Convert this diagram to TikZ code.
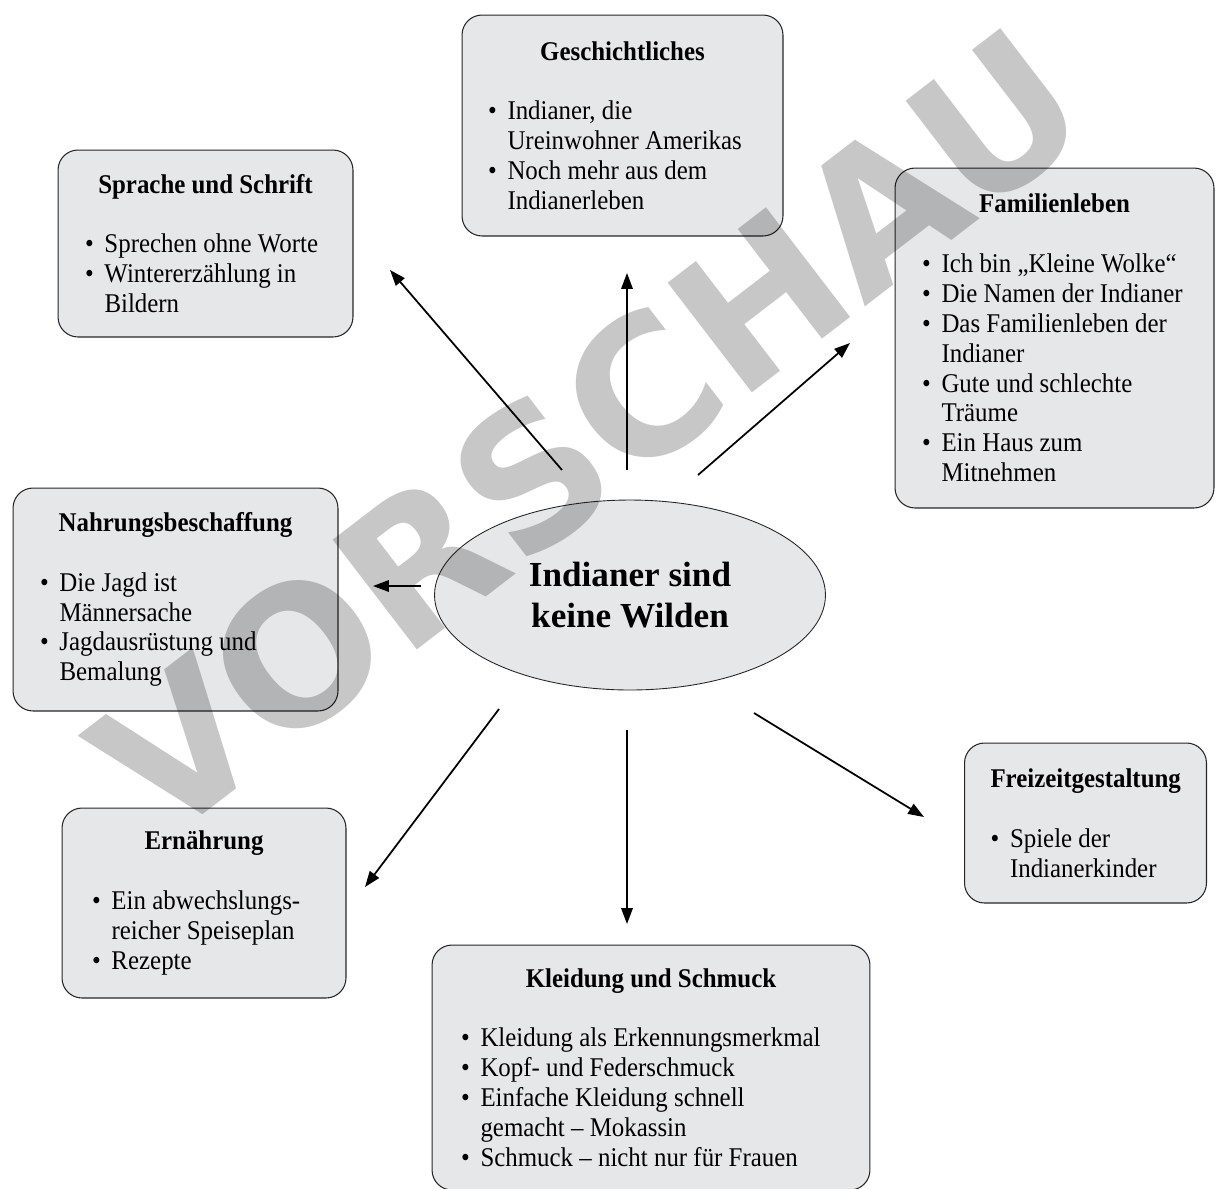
\documentclass[tikz,border=0pt]{standalone}
\usepackage{fontspec}
\setmainfont[FakeStretch=0.92]{Liberation Serif}
\newfontfamily\hubfont{Liberation Serif}
\newfontfamily\stampfont{DejaVu Sans}
\usetikzlibrary{shapes.geometric, arrows.meta, positioning}

\definecolor{boxgray}{HTML}{E6E7E9}
\newcommand{\bul}[1]{\par\noindent\hangindent=0.72em\hangafter=1\makebox[0.72em][l]{\textbullet}#1\par}
\newcommand{\boxhead}[1]{{\centering\textbf{#1}\par}\vspace{17pt}}

\begin{document}
\begin{tikzpicture}[
    x=0.02cm, y=-0.02cm,
    topic/.style={draw=black!85, fill=boxgray, line width=0.6pt,
        rounded corners=0.4cm, inner sep=0pt, align=flush left,
        font=\fontsize{15.4}{17}\selectfont},
    hub/.style={ellipse, draw=black!85, fill=boxgray, line width=0.5pt,
        inner sep=0pt, align=center,
        font=\hubfont\bfseries\fontsize{20}{23}\selectfont},
    link/.style={-{Triangle[length=9pt, width=6.5pt]}, line width=1pt},
    stamp/.style={font=\stampfont\bfseries\fontsize{108}{108}\selectfont,
        text=black, text opacity=0.22, rotate=37.5, inner sep=0pt}
]
\useasboundingbox (0,0) rectangle (1216,1188);

% central topic
\node[hub, minimum width=7.82cm, minimum height=3.8cm] (hub) at (630,595)
    {Indianer sind\\keine Wilden};

% topic boxes
\node[topic, minimum width=5.9cm, minimum height=3.74cm, text width=4.82cm]
    (sprache) at (205.5,243.5) {\boxhead{Sprache und Schrift}%
    \bul{Sprechen ohne Worte}
    \bul{Wintererzählung in\newline Bildern}};

\node[topic, minimum width=6.42cm, minimum height=4.42cm, text width=5.38cm]
    (gesch) at (622.5,125.5) {\boxhead{Geschichtliches}%
    \bul{Indianer, die\newline Ureinwohner Amerikas}
    \bul{Noch mehr aus dem\newline Indianerleben}};

\node[topic, minimum width=6.38cm, minimum height=6.8cm, text width=5.3cm]
    (familie) at (1054.5,338) {\boxhead{Familienleben}%
    \bul{Ich bin „Kleine Wolke“}
    \bul{Die Namen der Indianer}
    \bul{Das Familienleben der\newline Indianer}
    \bul{Gute und schlechte\newline Träume}
    \bul{Ein Haus zum\newline Mitnehmen}};

\node[topic, minimum width=6.5cm, minimum height=4.46cm, text width=5.42cm]
    (nahrung) at (175.5,599.5) {\boxhead{Nahrungsbeschaffung}%
    \bul{Die Jagd ist\newline Männersache}
    \bul{Jagdausrüstung und\newline Bemalung}};

\node[topic, minimum width=5.68cm, minimum height=3.8cm, text width=4.48cm]
    (ernaehrung) at (204,903) {\boxhead{Ernährung}%
    \bul{Ein abwechslungs-\newline reicher Speiseplan}
    \bul{Rezepte}};

\node[topic, minimum width=8.76cm, minimum height=4.9cm, text width=7.6cm]
    (kleidung) at (651,1067.5) {\boxhead{Kleidung und Schmuck}%
    \bul{Kleidung als Erkennungsmerkmal}
    \bul{Kopf- und Federschmuck}
    \bul{Einfache Kleidung schnell\newline gemacht – Mokassin}
    \bul{Schmuck – nicht nur für Frauen}};

\node[topic, minimum width=4.84cm, minimum height=3.2cm, text width=3.8cm]
    (freizeit) at (1085.5,823) {\boxhead{Freizeitgestaltung}%
    \bul{Spiele der\newline Indianerkinder}};

% arrow ends
\coordinate (hub-nw) at (562,470);
\coordinate (hub-n)  at (627,470);
\coordinate (hub-ne) at (698,475);
\coordinate (hub-w)  at (421,586);
\coordinate (hub-sw) at (499,709);
\coordinate (hub-s)  at (627,730);
\coordinate (hub-se) at (754,713);
\coordinate (sprache-in)    at (390,270);
\coordinate (gesch-in)      at (627,273);
\coordinate (familie-in)    at (850,343);
\coordinate (nahrung-in)    at (373,586);
\coordinate (ernaehrung-in) at (365,887);
\coordinate (kleidung-in)   at (627,924);
\coordinate (freizeit-in)   at (924,817);

\draw[link] (hub-nw) -- (sprache-in);
\draw[link] (hub-n)  -- (gesch-in);
\draw[link] (hub-ne) -- (familie-in);
\draw[link] (hub-w)  -- (nahrung-in);
\draw[link] (hub-sw) -- (ernaehrung-in);
\draw[link] (hub-s)  -- (kleidung-in);
\draw[link] (hub-se) -- (freizeit-in);

% preview stamp
\node[stamp] (vorschau) at (588,432) {VORSCHAU};
\end{tikzpicture}
\end{document}
